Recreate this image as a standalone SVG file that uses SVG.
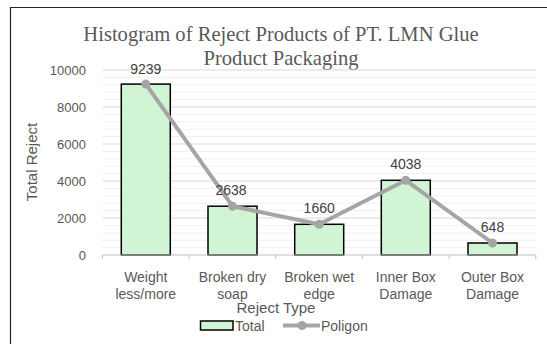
<svg xmlns="http://www.w3.org/2000/svg" width="547" height="344" viewBox="0 0 547 344">
  <style>
    .title { font-family: "Liberation Serif", "Times New Roman", serif; font-size: 20.6px; fill: #595959; text-anchor: middle; }
    .axis { font-family: "Liberation Sans", Arial, sans-serif; font-size: 13px; fill: #595959; }
    .cat { font-family: "Liberation Sans", Arial, sans-serif; font-size: 14px; fill: #595959; text-anchor: middle; }
    .dlab { font-family: "Liberation Sans", Arial, sans-serif; font-size: 14px; fill: #404040; text-anchor: middle; }
    .atitle { font-family: "Liberation Sans", Arial, sans-serif; font-size: 15px; fill: #595959; }
    .leg { font-family: "Liberation Sans", Arial, sans-serif; font-size: 14px; fill: #595959; }
    .major { stroke: #d9d9d9; stroke-width: 1; }
    .minor { stroke: #f0f0f0; stroke-width: 1; }
    .bar { fill: #d0f4d4; stroke: #000000; stroke-width: 1.5; }
    .poly { fill: none; stroke: #a5a5a5; stroke-width: 4; stroke-linejoin: round; stroke-linecap: round; }
    .dot { fill: #a5a5a5; }
  </style>

  <rect x="0" y="0" width="547" height="344" fill="#ffffff"/>
  <!-- chart frame -->
  <path d="M10.5 344 V7.5 H547" fill="none" stroke="#262626" stroke-width="1.2"/>

  <!-- title -->
  <g id="title">
    <text class="title" x="281" y="41">Histogram of Reject Products of PT. LMN Glue</text>
    <text class="title" x="281" y="65">Product Packaging</text>
  </g>

  <!-- gridlines: minor every 400, major every 2000 -->
  <g id="grid">
    <g class="minor">
      <line x1="102.5" x2="536" y1="247.6" y2="247.6"/>
      <line x1="102.5" x2="536" y1="240.2" y2="240.2"/>
      <line x1="102.5" x2="536" y1="232.8" y2="232.8"/>
      <line x1="102.5" x2="536" y1="225.4" y2="225.4"/>
      <line x1="102.5" x2="536" y1="210.6" y2="210.6"/>
      <line x1="102.5" x2="536" y1="203.2" y2="203.2"/>
      <line x1="102.5" x2="536" y1="195.8" y2="195.8"/>
      <line x1="102.5" x2="536" y1="188.4" y2="188.4"/>
      <line x1="102.5" x2="536" y1="173.6" y2="173.6"/>
      <line x1="102.5" x2="536" y1="166.2" y2="166.2"/>
      <line x1="102.5" x2="536" y1="158.8" y2="158.8"/>
      <line x1="102.5" x2="536" y1="151.4" y2="151.4"/>
      <line x1="102.5" x2="536" y1="136.6" y2="136.6"/>
      <line x1="102.5" x2="536" y1="129.2" y2="129.2"/>
      <line x1="102.5" x2="536" y1="121.8" y2="121.8"/>
      <line x1="102.5" x2="536" y1="114.4" y2="114.4"/>
      <line x1="102.5" x2="536" y1="99.6" y2="99.6"/>
      <line x1="102.5" x2="536" y1="92.2" y2="92.2"/>
      <line x1="102.5" x2="536" y1="84.8" y2="84.8"/>
      <line x1="102.5" x2="536" y1="77.4" y2="77.4"/>
    </g>
    <g class="major">
      <line x1="102.5" x2="536" y1="218" y2="218"/>
      <line x1="102.5" x2="536" y1="181" y2="181"/>
      <line x1="102.5" x2="536" y1="144" y2="144"/>
      <line x1="102.5" x2="536" y1="107" y2="107"/>
      <line x1="102.5" x2="536" y1="70" y2="70"/>
    </g>
  </g>

  <!-- value axis labels -->
  <g id="y-axis" class="axis" text-anchor="end">
    <text x="86" y="259.5">0</text>
    <text x="86" y="222.5">2000</text>
    <text x="86" y="185.5">4000</text>
    <text x="86" y="148.5">6000</text>
    <text x="86" y="111.5">8000</text>
    <text x="86" y="74.5">10000</text>
  </g>
  <text class="atitle" transform="translate(37 162) rotate(-90)" text-anchor="middle">Total Reject</text>

  <!-- bars -->
  <g id="bar-weight"><rect class="bar" x="121.3" y="84.1" width="49" height="170.9"/></g>
  <g id="bar-dry"><rect class="bar" x="208" y="206.2" width="49" height="48.8"/></g>
  <g id="bar-wet"><rect class="bar" x="294.7" y="224.3" width="49" height="30.7"/></g>
  <g id="bar-inner"><rect class="bar" x="381.3" y="180.3" width="49" height="74.7"/></g>
  <g id="bar-outer"><rect class="bar" x="468" y="243" width="49" height="12"/></g>

  <!-- category axis -->
  <g id="x-axis" stroke="#bfbfbf" stroke-width="1">
    <line x1="102.5" x2="536" y1="255" y2="255"/>
    <line x1="102.5" x2="102.5" y1="255" y2="259"/>
    <line x1="189.2" x2="189.2" y1="255" y2="259"/>
    <line x1="275.8" x2="275.8" y1="255" y2="259"/>
    <line x1="362.5" x2="362.5" y1="255" y2="259"/>
    <line x1="449.2" x2="449.2" y1="255" y2="259"/>
    <line x1="535.8" x2="535.8" y1="255" y2="259"/>
  </g>

  <!-- polygon line -->
  <g id="connectors">
    <polyline class="poly" points="145.8,84.1 232.5,206.2 319.2,224.3 405.8,180.3 492.5,243"/>
    <circle class="dot" cx="145.8" cy="84.1" r="4.5"/>
    <circle class="dot" cx="232.5" cy="206.2" r="4.5"/>
    <circle class="dot" cx="319.2" cy="224.3" r="4.5"/>
    <circle class="dot" cx="405.8" cy="180.3" r="4.5"/>
    <circle class="dot" cx="492.5" cy="243" r="4.5"/>
  </g>

  <!-- data labels -->
  <g id="data-labels" class="dlab">
    <text x="145.8" y="73.5">9239</text>
    <text x="231" y="195">2638</text>
    <text x="319.2" y="213">1660</text>
    <text x="405.8" y="169">4038</text>
    <text x="492.5" y="232">648</text>
  </g>

  <!-- category labels -->
  <g id="categories" class="cat">
    <text x="145.8" y="282">Weight</text>
    <text x="145.8" y="298.5">less/more</text>
    <text x="232.5" y="282">Broken dry</text>
    <text x="232.5" y="298.5">soap</text>
    <text x="319.2" y="282">Broken wet</text>
    <text x="319.2" y="298.5">edge</text>
    <text x="405.8" y="282">Inner Box</text>
    <text x="405.8" y="298.5">Damage</text>
    <text x="492.5" y="282">Outer Box</text>
    <text x="492.5" y="298.5">Damage</text>
  </g>
  <text class="atitle" x="276" y="313" text-anchor="middle">Reject Type</text>

  <!-- legend -->
  <g id="legend">
    <rect class="bar" x="200.5" y="321" width="32.5" height="9"/>
    <text class="leg" x="235" y="330.5">Total</text>
    <line x1="283" x2="320" y1="325.5" y2="325.5" stroke="#a5a5a5" stroke-width="4"/>
    <circle class="dot" cx="302" cy="325.5" r="4.5"/>
    <text class="leg" x="321" y="330.5">Poligon</text>
  </g>
</svg>
